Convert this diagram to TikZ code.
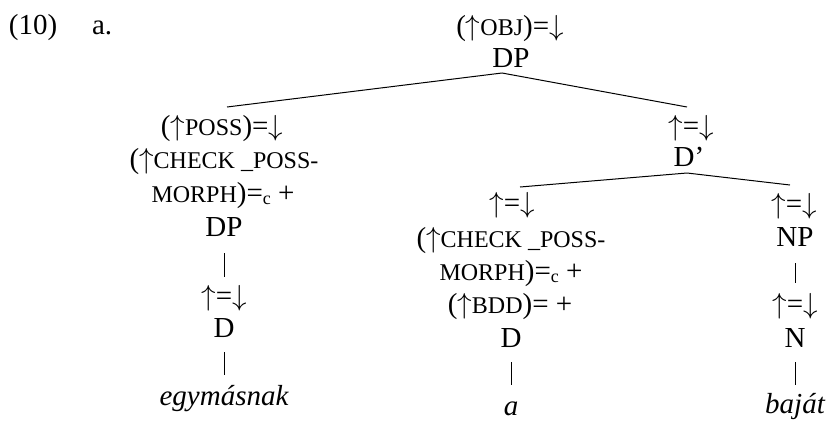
\RequirePackage{fix-cm}
\documentclass[tikz,border=0pt]{standalone}
\usepackage{fontspec}
\setmainfont{Liberation Serif}
\newcommand\smc[1]{{\fontsize{24}{24}\selectfont #1}}
\newcommand\subc{\raisebox{-2pt}{\fontsize{18}{18}\selectfont c}}
\newcommand\upar{\ensuremath{\uparrow}}
\newcommand\dnar{\ensuremath{\downarrow}}
\tikzset{
  lab/.style={inner sep=0pt, outer sep=0pt, anchor=base, font=\fontsize{29}{33}\selectfont},
  branch/.style={line width=1pt},
  bar/.style={line width=1pt}
}
\begin{document}
\begin{tikzpicture}[x=1pt,y=-1pt]
\useasboundingbox (0,0) rectangle (827,421);
% example number
\node[lab, anchor=base west] (num) at (9,34) {(10)};
\node[lab, anchor=base west] (sub) at (92,34) {a.};
% root
\node[lab] (obj) at (510,35) {(\upar\smc{OBJ})=\dnar};
\node[lab] (dpTop) at (511,67) {DP};
% left daughter
\node[lab] (possA) at (222,135) {(\upar\smc{POSS})=\dnar};
\node[lab] (checkA) at (224,168) {(\upar\smc{CHECK \_POSS-}};
\node[lab] (morphA) at (223,202) {\smc{MORPH})=\subc{} +};
\node[lab] (dpA) at (224,236) {DP};
\node[lab] (eqA) at (224,305) {\upar=\dnar};
\node[lab] (dA) at (224,337) {D};
\node[lab] (egy) at (224,405) {\itshape egymásnak};
% right daughter D'
\node[lab] (eqC) at (691,135) {\upar=\dnar};
\node[lab] (dbar) at (689,166) {D’};
% D head
\node[lab] (eqB) at (512,212) {\upar=\dnar};
\node[lab] (checkB) at (511,247) {(\upar\smc{CHECK \_POSS-}};
\node[lab] (morphB) at (511,280) {\smc{MORPH})=\subc{} +};
\node[lab] (bddB) at (510,313) {(\upar\smc{BDD})= +};
\node[lab] (dB) at (511,347) {D};
\node[lab] (aB) at (511,415) {\itshape a};
% NP
\node[lab] (eqD) at (794,213) {\upar=\dnar};
\node[lab] (npD) at (795,246) {NP};
\node[lab] (eqE) at (795,313) {\upar=\dnar};
\node[lab] (nE) at (795,347) {N};
\node[lab] (bajat) at (795,413) {\itshape baját};
% branch points
\coordinate (apexTop) at ([xshift=-9pt,yshift=-6pt]dpTop.base);
\coordinate (endA) at ([xshift=5pt,yshift=28pt]possA.base);
\coordinate (endC) at ([xshift=-4pt,yshift=28pt]eqC.base);
\coordinate (apexBar) at ([xshift=-2pt,yshift=-7pt]dbar.base);
\coordinate (endB) at ([xshift=8pt,yshift=25pt]eqB.base);
\coordinate (endD) at ([xshift=-4pt,yshift=28pt]eqD.base);
\draw[branch] (endA) -- (apexTop) -- (endC);
\draw[branch] (endB) -- (apexBar) -- (endD);
% unary bars
\draw[bar, shorten <=17pt, shorten >=28pt] (dpA.base) -- (eqA.base);
\draw[bar, shorten <=15pt, shorten >=30pt] (dA.base) -- (egy.base);
\draw[bar, shorten <=15pt, shorten >=30pt] (dB.base) -- (aB.base);
\draw[bar, shorten <=17pt, shorten >=30pt] (npD.base) -- (eqE.base);
\draw[bar, shorten <=15pt, shorten >=28pt] (nE.base) -- (bajat.base);
\end{tikzpicture}
\end{document}
